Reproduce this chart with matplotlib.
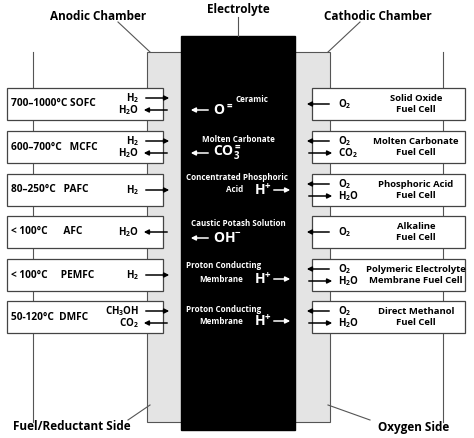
import matplotlib
matplotlib.use("Agg")
import matplotlib.pyplot as plt
from matplotlib.patches import Rectangle

plt.rcParams['font.family'] = ['Open Sans', 'DejaVu Sans']
plt.rcParams['mathtext.fontset'] = 'custom'
plt.rcParams['mathtext.rm'] = 'Open Sans:bold'
plt.rcParams['mathtext.it'] = 'Open Sans:bold'
plt.rcParams['mathtext.bf'] = 'Open Sans:bold'

left_labels = ["700–1000°C SOFC", "600–700°C   MCFC", "80–250°C   PAFC", "< 100°C      AFC", "< 100°C     PEMFC", "50-120°C  DMFC"]
left_in = ["H$_2$", "H$_2$", "H$_2$", None, "H$_2$", "CH$_3$OH"]
left_out = ["H$_2$O", "H$_2$O", None, "H$_2$O", None, "CO$_2$"]
elec_line1 = ["Ceramic", "Molten Carbonate", "Concentrated Phosphoric", "Caustic Potash Solution", "Proton Conducting", "Proton Conducting"]
elec_line2 = [None, None, "Acid", None, "Membrane", "Membrane"]
ions = ["O$^{=}$", "CO$_3^{=}$", "H$^{+}$", "OH$^{-}$", "H$^{+}$", "H$^{+}$"]
ion_dir = [-1, -1, 1, -1, 1, 1]
right_in = ["O$_2$"] * 6
right_out = [None, "CO$_2$", "H$_2$O", None, "H$_2$O", "H$_2$O"]
right_labels = ["Solid Oxide\nFuel Cell", "Molten Carbonate\nFuel Cell", "Phosphoric Acid\nFuel Cell", "Alkaline\nFuel Cell", "Polymeric Electrolyte\nMembrane Fuel Cell", "Direct Methanol\nFuel Cell"]
row_tops = [88, 131, 174, 216, 259, 301]

fig = plt.figure(figsize=(4.74, 4.38), dpi=100)
ax = fig.add_axes([0, 0, 1, 1])
ax.set_xlim(0, 474); ax.set_ylim(438, 0); ax.axis('off')

ax.add_patch(Rectangle((147, 52), 35, 370, fc='#e4e4e4', ec='#555555', lw=0.8, zorder=1))
ax.add_patch(Rectangle((294, 52), 36, 370, fc='#e4e4e4', ec='#555555', lw=0.8, zorder=1))
ax.add_patch(Rectangle((181, 36), 114, 394, fc='black', ec='black', zorder=2))
for x in (33, 443):
    ax.plot([x, x], [52, 422], color='#555555', lw=0.8, zorder=0.5)

fs = 7
bold = dict(fontweight='bold', color='black')
wb = dict(fontweight='bold', color='white', zorder=5)
ar = dict(arrowstyle='-|>', color='black', lw=1.1, mutation_scale=7)
arw = dict(arrowstyle='-|>', color='white', lw=1.1, mutation_scale=7)
l1_pos = [(252, 12), (238, 8), (237, 3), (238, 7), (224, 7), (224, 9)]
for i, t in enumerate(row_tops):
    h = 32
    c = t + h / 2
    ax.add_patch(Rectangle((7, t), 156, h, fc='white', ec='#444444', lw=0.9, zorder=3))
    ax.add_patch(Rectangle((312, t), 153, h, fc='white', ec='#444444', lw=0.9, zorder=3))
    ax.text(11, c, left_labels[i], fontsize=7.3, va='center', zorder=5, **bold)
    y1, y2 = c - 6, c + 6
    if left_out[i] is None: y1 = c
    if left_in[i] is None: y2 = c
    if left_in[i]:
        ax.text(139, y1, left_in[i], fontsize=fs, ha='right', va='center', zorder=5, **bold)
        ax.annotate('', xy=(172, y1), xytext=(143, y1), arrowprops=ar, zorder=6)
    if left_out[i]:
        ax.text(139, y2, left_out[i], fontsize=fs, ha='right', va='center', zorder=5, **bold)
        ax.annotate('', xy=(141, y2), xytext=(170, y2), arrowprops=ar, zorder=6)
    lx, ly = l1_pos[i]
    ax.text(lx, t + ly, elec_line1[i], fontsize=5.8, ha='center', va='center', **wb)
    if ion_dir[i] < 0:
        iy = t + 22
        ax.annotate('', xy=(188, iy), xytext=(211, iy), arrowprops=arw, zorder=6)
        ax.text(213, iy, ions[i], fontsize=10, va='center', **wb)
    else:
        iy = t + 16 if i == 2 else t + 20
        ax.text(243, iy, elec_line2[i], fontsize=5.8, ha='right', va='center', **wb)
        ax.text(254, iy, ions[i], fontsize=10, va='center', **wb)
        ax.annotate('', xy=(293, iy), xytext=(271, iy), arrowprops=arw, zorder=6)
    r1, r2 = c - 6, c + 6
    if right_out[i] is None: r1 = c
    ax.text(338, r1, right_in[i], fontsize=fs, va='center', zorder=5, **bold)
    ax.annotate('', xy=(304, r1), xytext=(332, r1), arrowprops=ar, zorder=6)
    if right_out[i]:
        ax.text(338, r2, right_out[i], fontsize=fs, va='center', zorder=5, **bold)
        ax.annotate('', xy=(335, r2), xytext=(306, r2), arrowprops=ar, zorder=6)
    ax.text(416, c, right_labels[i], fontsize=6.8, ha='center', va='center', zorder=5, linespacing=1.3, **bold)

ax.text(98, 16, "Anodic Chamber", fontsize=8.5, ha='center', va='center', **bold)
ax.text(238, 10, "Electrolyte", fontsize=8.5, ha='center', va='center', **bold)
ax.text(378, 16, "Cathodic Chamber", fontsize=8.5, ha='center', va='center', **bold)
ax.text(72, 427, "Fuel/Reductant Side", fontsize=8.5, ha='center', va='center', **bold)
ax.text(414, 427, "Oxygen Side", fontsize=8.5, ha='center', va='center', **bold)
lc = dict(color='#555555', lw=0.8)
ax.plot([118, 150], [22, 52], **lc)
ax.plot([238, 238], [17, 36], **lc)
ax.plot([360, 328], [22, 52], **lc)
ax.plot([128, 150], [420, 405], **lc)
ax.plot([370, 328], [420, 405], **lc)

fig.savefig("out.png", dpi=100)
